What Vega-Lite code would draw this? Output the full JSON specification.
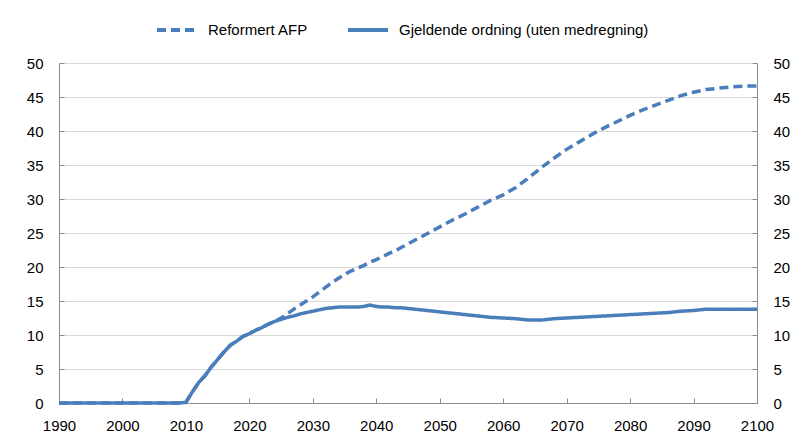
{
  "$schema": "https://vega.github.io/schema/vega-lite/v6.json",
  "autosize": {"type": "none"},
  "width": 698,
  "height": 340,
  "padding": {"left": 59, "top": 63, "right": 41, "bottom": 41},
  "background": "white",
  "config": {
    "view": {"stroke": null},
    "font": "Liberation Sans",
    "axis": {"labelFont": "Liberation Sans", "labelFontSize": 15, "labelColor": "#000000", "domainColor": "#8c8c8c", "tickColor": "#8c8c8c", "gridColor": "#d9d9d9", "gridWidth": 1, "title": null}
  },
  "data": {
    "values": [
      {"year": 1990, "series": "Gjeldende ordning (uten medregning)", "value": 0},
      {"year": 1995, "series": "Gjeldende ordning (uten medregning)", "value": 0},
      {"year": 2000, "series": "Gjeldende ordning (uten medregning)", "value": 0},
      {"year": 2005, "series": "Gjeldende ordning (uten medregning)", "value": 0},
      {"year": 2009, "series": "Gjeldende ordning (uten medregning)", "value": 0},
      {"year": 2010, "series": "Gjeldende ordning (uten medregning)", "value": 0.1},
      {"year": 2011, "series": "Gjeldende ordning (uten medregning)", "value": 1.6},
      {"year": 2012, "series": "Gjeldende ordning (uten medregning)", "value": 3.0},
      {"year": 2013, "series": "Gjeldende ordning (uten medregning)", "value": 4.0},
      {"year": 2014, "series": "Gjeldende ordning (uten medregning)", "value": 5.3},
      {"year": 2015, "series": "Gjeldende ordning (uten medregning)", "value": 6.4},
      {"year": 2016, "series": "Gjeldende ordning (uten medregning)", "value": 7.5},
      {"year": 2017, "series": "Gjeldende ordning (uten medregning)", "value": 8.5},
      {"year": 2018, "series": "Gjeldende ordning (uten medregning)", "value": 9.1},
      {"year": 2019, "series": "Gjeldende ordning (uten medregning)", "value": 9.8},
      {"year": 2020, "series": "Gjeldende ordning (uten medregning)", "value": 10.2},
      {"year": 2021, "series": "Gjeldende ordning (uten medregning)", "value": 10.7},
      {"year": 2022, "series": "Gjeldende ordning (uten medregning)", "value": 11.1},
      {"year": 2023, "series": "Gjeldende ordning (uten medregning)", "value": 11.6},
      {"year": 2024, "series": "Gjeldende ordning (uten medregning)", "value": 12.0},
      {"year": 2025, "series": "Gjeldende ordning (uten medregning)", "value": 12.3},
      {"year": 2026, "series": "Gjeldende ordning (uten medregning)", "value": 12.6},
      {"year": 2027, "series": "Gjeldende ordning (uten medregning)", "value": 12.8},
      {"year": 2028, "series": "Gjeldende ordning (uten medregning)", "value": 13.1},
      {"year": 2029, "series": "Gjeldende ordning (uten medregning)", "value": 13.3},
      {"year": 2030, "series": "Gjeldende ordning (uten medregning)", "value": 13.5},
      {"year": 2031, "series": "Gjeldende ordning (uten medregning)", "value": 13.7},
      {"year": 2032, "series": "Gjeldende ordning (uten medregning)", "value": 13.9},
      {"year": 2033, "series": "Gjeldende ordning (uten medregning)", "value": 14.0},
      {"year": 2034, "series": "Gjeldende ordning (uten medregning)", "value": 14.1},
      {"year": 2035, "series": "Gjeldende ordning (uten medregning)", "value": 14.1},
      {"year": 2036, "series": "Gjeldende ordning (uten medregning)", "value": 14.1},
      {"year": 2037, "series": "Gjeldende ordning (uten medregning)", "value": 14.1},
      {"year": 2038, "series": "Gjeldende ordning (uten medregning)", "value": 14.2},
      {"year": 2039, "series": "Gjeldende ordning (uten medregning)", "value": 14.4},
      {"year": 2040, "series": "Gjeldende ordning (uten medregning)", "value": 14.2},
      {"year": 2041, "series": "Gjeldende ordning (uten medregning)", "value": 14.1},
      {"year": 2042, "series": "Gjeldende ordning (uten medregning)", "value": 14.1},
      {"year": 2043, "series": "Gjeldende ordning (uten medregning)", "value": 14.0},
      {"year": 2044, "series": "Gjeldende ordning (uten medregning)", "value": 14.0},
      {"year": 2045, "series": "Gjeldende ordning (uten medregning)", "value": 13.9},
      {"year": 2046, "series": "Gjeldende ordning (uten medregning)", "value": 13.8},
      {"year": 2047, "series": "Gjeldende ordning (uten medregning)", "value": 13.7},
      {"year": 2048, "series": "Gjeldende ordning (uten medregning)", "value": 13.6},
      {"year": 2049, "series": "Gjeldende ordning (uten medregning)", "value": 13.5},
      {"year": 2050, "series": "Gjeldende ordning (uten medregning)", "value": 13.4},
      {"year": 2052, "series": "Gjeldende ordning (uten medregning)", "value": 13.2},
      {"year": 2054, "series": "Gjeldende ordning (uten medregning)", "value": 13.0},
      {"year": 2056, "series": "Gjeldende ordning (uten medregning)", "value": 12.8},
      {"year": 2058, "series": "Gjeldende ordning (uten medregning)", "value": 12.6},
      {"year": 2060, "series": "Gjeldende ordning (uten medregning)", "value": 12.5},
      {"year": 2062, "series": "Gjeldende ordning (uten medregning)", "value": 12.4},
      {"year": 2064, "series": "Gjeldende ordning (uten medregning)", "value": 12.2},
      {"year": 2066, "series": "Gjeldende ordning (uten medregning)", "value": 12.2},
      {"year": 2068, "series": "Gjeldende ordning (uten medregning)", "value": 12.4},
      {"year": 2070, "series": "Gjeldende ordning (uten medregning)", "value": 12.5},
      {"year": 2072, "series": "Gjeldende ordning (uten medregning)", "value": 12.6},
      {"year": 2074, "series": "Gjeldende ordning (uten medregning)", "value": 12.7},
      {"year": 2076, "series": "Gjeldende ordning (uten medregning)", "value": 12.8},
      {"year": 2078, "series": "Gjeldende ordning (uten medregning)", "value": 12.9},
      {"year": 2080, "series": "Gjeldende ordning (uten medregning)", "value": 13.0},
      {"year": 2082, "series": "Gjeldende ordning (uten medregning)", "value": 13.1},
      {"year": 2084, "series": "Gjeldende ordning (uten medregning)", "value": 13.2},
      {"year": 2086, "series": "Gjeldende ordning (uten medregning)", "value": 13.3},
      {"year": 2088, "series": "Gjeldende ordning (uten medregning)", "value": 13.5},
      {"year": 2090, "series": "Gjeldende ordning (uten medregning)", "value": 13.6},
      {"year": 2092, "series": "Gjeldende ordning (uten medregning)", "value": 13.8},
      {"year": 2095, "series": "Gjeldende ordning (uten medregning)", "value": 13.8},
      {"year": 2100, "series": "Gjeldende ordning (uten medregning)", "value": 13.8},
      {"year": 1990, "series": "Reformert AFP", "value": 0},
      {"year": 2009, "series": "Reformert AFP", "value": 0},
      {"year": 2010, "series": "Reformert AFP", "value": 0.1},
      {"year": 2011, "series": "Reformert AFP", "value": 1.6},
      {"year": 2012, "series": "Reformert AFP", "value": 3.0},
      {"year": 2013, "series": "Reformert AFP", "value": 4.0},
      {"year": 2014, "series": "Reformert AFP", "value": 5.3},
      {"year": 2015, "series": "Reformert AFP", "value": 6.4},
      {"year": 2016, "series": "Reformert AFP", "value": 7.5},
      {"year": 2017, "series": "Reformert AFP", "value": 8.5},
      {"year": 2018, "series": "Reformert AFP", "value": 9.1},
      {"year": 2019, "series": "Reformert AFP", "value": 9.8},
      {"year": 2020, "series": "Reformert AFP", "value": 10.2},
      {"year": 2021, "series": "Reformert AFP", "value": 10.7},
      {"year": 2022, "series": "Reformert AFP", "value": 11.1},
      {"year": 2023, "series": "Reformert AFP", "value": 11.6},
      {"year": 2024, "series": "Reformert AFP", "value": 12.0},
      {"year": 2025, "series": "Reformert AFP", "value": 12.5},
      {"year": 2026, "series": "Reformert AFP", "value": 13.1},
      {"year": 2027, "series": "Reformert AFP", "value": 13.8},
      {"year": 2028, "series": "Reformert AFP", "value": 14.4},
      {"year": 2029, "series": "Reformert AFP", "value": 15.0},
      {"year": 2030, "series": "Reformert AFP", "value": 15.6},
      {"year": 2031, "series": "Reformert AFP", "value": 16.3},
      {"year": 2032, "series": "Reformert AFP", "value": 17.0},
      {"year": 2033, "series": "Reformert AFP", "value": 17.7},
      {"year": 2034, "series": "Reformert AFP", "value": 18.3},
      {"year": 2035, "series": "Reformert AFP", "value": 18.9},
      {"year": 2036, "series": "Reformert AFP", "value": 19.4},
      {"year": 2037, "series": "Reformert AFP", "value": 19.8},
      {"year": 2038, "series": "Reformert AFP", "value": 20.2},
      {"year": 2039, "series": "Reformert AFP", "value": 20.7},
      {"year": 2040, "series": "Reformert AFP", "value": 21.1},
      {"year": 2041, "series": "Reformert AFP", "value": 21.5},
      {"year": 2042, "series": "Reformert AFP", "value": 22.0},
      {"year": 2043, "series": "Reformert AFP", "value": 22.4},
      {"year": 2044, "series": "Reformert AFP", "value": 22.9},
      {"year": 2045, "series": "Reformert AFP", "value": 23.4},
      {"year": 2046, "series": "Reformert AFP", "value": 23.9},
      {"year": 2047, "series": "Reformert AFP", "value": 24.4},
      {"year": 2048, "series": "Reformert AFP", "value": 24.9},
      {"year": 2049, "series": "Reformert AFP", "value": 25.4},
      {"year": 2050, "series": "Reformert AFP", "value": 25.9},
      {"year": 2052, "series": "Reformert AFP", "value": 26.9},
      {"year": 2054, "series": "Reformert AFP", "value": 27.8},
      {"year": 2056, "series": "Reformert AFP", "value": 28.8},
      {"year": 2058, "series": "Reformert AFP", "value": 29.8},
      {"year": 2060, "series": "Reformert AFP", "value": 30.6},
      {"year": 2062, "series": "Reformert AFP", "value": 31.7},
      {"year": 2064, "series": "Reformert AFP", "value": 33.1},
      {"year": 2066, "series": "Reformert AFP", "value": 34.6},
      {"year": 2068, "series": "Reformert AFP", "value": 36.0},
      {"year": 2070, "series": "Reformert AFP", "value": 37.3},
      {"year": 2072, "series": "Reformert AFP", "value": 38.4},
      {"year": 2074, "series": "Reformert AFP", "value": 39.5},
      {"year": 2076, "series": "Reformert AFP", "value": 40.5},
      {"year": 2078, "series": "Reformert AFP", "value": 41.4},
      {"year": 2080, "series": "Reformert AFP", "value": 42.3},
      {"year": 2082, "series": "Reformert AFP", "value": 43.1},
      {"year": 2084, "series": "Reformert AFP", "value": 43.8},
      {"year": 2086, "series": "Reformert AFP", "value": 44.5},
      {"year": 2088, "series": "Reformert AFP", "value": 45.2},
      {"year": 2090, "series": "Reformert AFP", "value": 45.7},
      {"year": 2092, "series": "Reformert AFP", "value": 46.1},
      {"year": 2094, "series": "Reformert AFP", "value": 46.3},
      {"year": 2096, "series": "Reformert AFP", "value": 46.5},
      {"year": 2098, "series": "Reformert AFP", "value": 46.6},
      {"year": 2100, "series": "Reformert AFP", "value": 46.6}
    ]
  },
  "encoding": {
    "x": {
      "field": "year", "type": "quantitative",
      "scale": {"domain": [1990, 2100], "nice": false, "zero": false},
      "axis": {"values": [1990, 2000, 2010, 2020, 2030, 2040, 2050, 2060, 2070, 2080, 2090, 2100], "format": "d", "grid": false, "tickSize": -5, "labelPadding": 20, "labelFlush": false}
    },
    "strokeDash": {
      "field": "series", "type": "nominal",
      "scale": {"domain": ["Reformert AFP", "Gjeldende ordning (uten medregning)"], "range": [[9, 5], [1, 0]]},
      "legend": {
        "orient": "none", "legendX": 96, "legendY": -55, "direction": "horizontal", "columns": 2,
        "title": null, "padding": 0, "labelFontSize": 15, "labelFont": "Liberation Sans", "labelColor": "#000000", "labelLimit": 500,
        "symbolType": "stroke", "symbolSize": 1600, "symbolStrokeWidth": 4, "symbolStrokeColor": "#4A7EBB",
        "columnPadding": 31, "labelOffset": 9
      }
    }
  },
  "layer": [
    {
      "transform": [{"filter": "datum.series === 'Reformert AFP'"}],
      "mark": {"type": "line", "color": "#4A7EBB", "strokeWidth": 3.5},
      "encoding": {
        "y": {
          "field": "value", "type": "quantitative",
          "scale": {"domain": [0, 50], "nice": false},
          "axis": {"orient": "left", "values": [0, 5, 10, 15, 20, 25, 30, 35, 40, 45, 50], "grid": true, "tickSize": -5, "labelPadding": 21}
        }
      }
    },
    {
      "transform": [{"filter": "datum.series !== 'Reformert AFP'"}],
      "mark": {"type": "line", "color": "#4A7EBB", "strokeWidth": 3.5},
      "encoding": {
        "y": {
          "field": "value", "type": "quantitative",
          "scale": {"domain": [0, 50], "nice": false},
          "axis": {"orient": "right", "values": [0, 5, 10, 15, 20, 25, 30, 35, 40, 45, 50], "grid": false, "tickSize": -5, "labelPadding": 21}
        }
      }
    }
  ],
  "resolve": {"axis": {"y": "independent"}}
}
